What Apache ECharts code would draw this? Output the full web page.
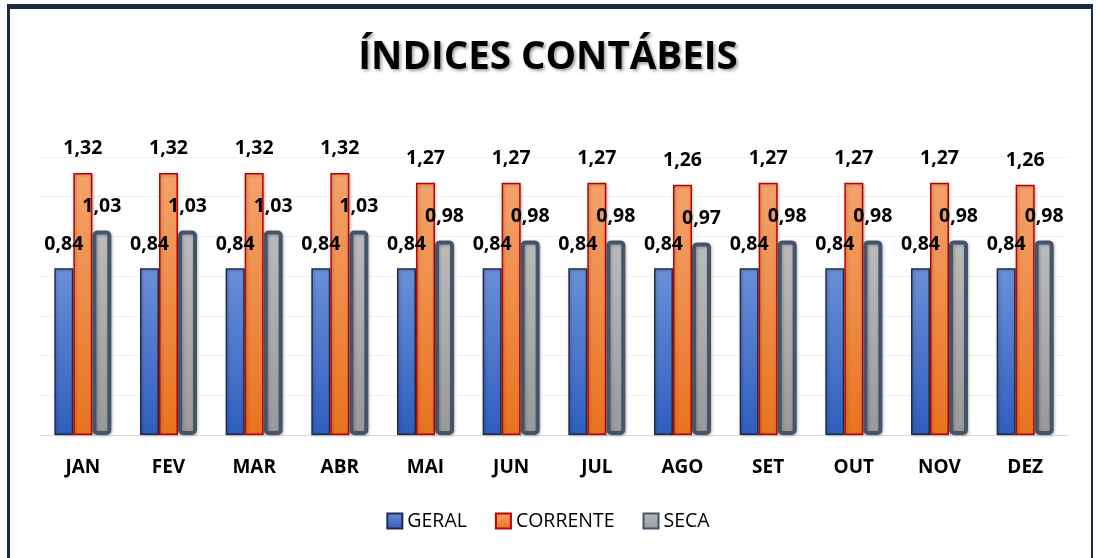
<!DOCTYPE html>
<html>
<head>
<meta charset="utf-8">
<script src="https://cdn.jsdelivr.net/npm/echarts@6/dist/echarts.min.js"></script>
<style>
    html, body { margin: 0; padding: 0; background: #fff; }
    #wrap { position: relative; width: 1096px; height: 558px; overflow: hidden; }
    #chart { width: 1096px; height: 558px; }
    #frame {
        position: absolute; left: 7px; top: 4px; width: 1086px; height: 600px;
        border-top: 5px solid #1B2A41; border-left: 3px solid #1B2A41; border-right: 2px solid #1B2A41;
        box-sizing: border-box; pointer-events: none;
    }
</style>
</head>
<body>
<div id="wrap">
    <div id="chart"></div>
    <div id="frame"></div>
</div>
<script>
var meses = ['JAN', 'FEV', 'MAR', 'ABR', 'MAI', 'JUN', 'JUL', 'AGO', 'SET', 'OUT', 'NOV', 'DEZ'];
var geral = [0.84, 0.84, 0.84, 0.84, 0.84, 0.84, 0.84, 0.84, 0.84, 0.84, 0.84, 0.84];
var corrente = [1.32, 1.32, 1.32, 1.32, 1.27, 1.27, 1.27, 1.26, 1.27, 1.27, 1.27, 1.26];
var seca = [1.03, 1.03, 1.03, 1.03, 0.98, 0.98, 0.98, 0.97, 0.98, 0.98, 0.98, 0.98];

var fonte = '"Open Sans", "Noto Sans", sans-serif';

function grad(top, bottom) {
    return new echarts.graphic.LinearGradient(0, 0, 0, 1, [
        { offset: 0, color: top },
        { offset: 1, color: bottom }
    ]);
}

var rotulo = {
    show: true,
    position: 'top',
    distance: 14,
    fontFamily: fonte,
    fontWeight: 'bold',
    fontSize: 19.5,
    color: '#000',
    formatter: function (p) { return p.value.toFixed(2).replace('.', ','); }
};

var chart = echarts.init(document.getElementById('chart'));
chart.setOption({
    animation: false,
    title: {
        text: 'ÍNDICES CONTÁBEIS',
        left: 'center',
        top: 34,
        textStyle: {
            fontFamily: fonte,
            fontWeight: 'bold',
            fontSize: 38.5,
            color: '#000',
            textShadowColor: 'rgba(0,0,0,0.35)',
            textShadowBlur: 3,
            textShadowOffsetX: 2,
            textShadowOffsetY: 2
        }
    },
    legend: {
        bottom: 22,
        left: 'center',
        icon: 'rect',
        itemWidth: 15,
        itemHeight: 15,
        itemGap: 28,
        textStyle: { fontFamily: fonte, fontSize: 19.5, color: '#000' },
        data: ['GERAL', 'CORRENTE', 'SECA']
    },
    grid: { left: 40, right: 28, top: 157, bottom: 123 },
    xAxis: {
        type: 'category',
        data: meses,
        axisTick: { show: false },
        axisLine: { lineStyle: { color: '#D9D9D9' } },
        axisLabel: {
            margin: 23,
            fontFamily: fonte,
            fontWeight: 'bold',
            fontSize: 19,
            color: '#000'
        }
    },
    yAxis: {
        type: 'value',
        min: 0,
        max: 1.4,
        interval: 0.2,
        axisLabel: { show: false },
        axisLine: { show: false },
        axisTick: { show: false },
        splitLine: { lineStyle: { color: '#F2F2F2' } }
    },
    series: [
        {
            name: 'GERAL',
            type: 'bar',
            data: geral,
            barWidth: 19,
            barGap: '0%',
            itemStyle: {
                color: grad('#6A90D8', '#2E5EBE'),
                borderColor: '#1F2D4A',
                borderWidth: 1.5,
                shadowColor: 'rgba(0,0,0,0.25)',
                shadowBlur: 3,
                shadowOffsetX: 1,
                shadowOffsetY: 1
            },
            label: rotulo
        },
        {
            name: 'CORRENTE',
            type: 'bar',
            data: corrente,
            barWidth: 19,
            barGap: '0%',
            itemStyle: {
                color: grad('#F4A26B', '#E8731F'),
                borderColor: '#C00000',
                borderWidth: 1.5,
                shadowColor: 'rgba(0,0,0,0.25)',
                shadowBlur: 3,
                shadowOffsetX: 1,
                shadowOffsetY: 1
            },
            label: rotulo
        },
        {
            name: 'SECA',
            type: 'bar',
            data: seca,
            barWidth: 19,
            barGap: '0%',
            itemStyle: {
                color: grad('#BBBBBB', '#999999'),
                borderColor: '#44546A',
                borderWidth: 4,
                borderRadius: 3,
                shadowColor: 'rgba(0,0,0,0.25)',
                shadowBlur: 3,
                shadowOffsetX: 1,
                shadowOffsetY: 1
            },
            label: rotulo
        }
    ]
});
</script>
</body>
</html>
